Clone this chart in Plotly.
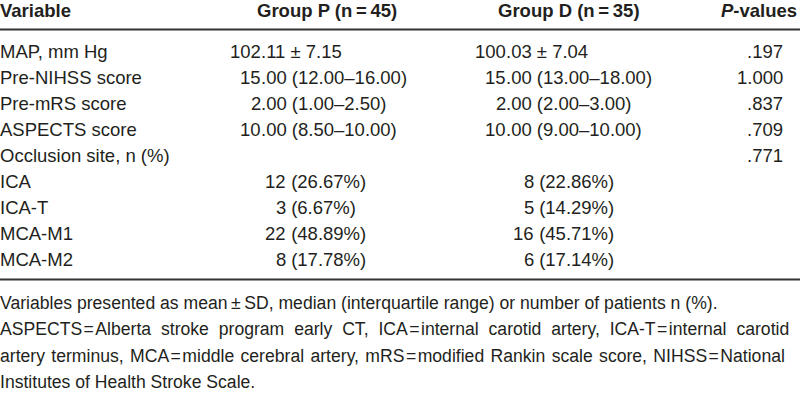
import plotly.graph_objects as go

# ---- data ----
variables = ["MAP, mm Hg", "Pre-NIHSS score", "Pre-mRS score", "ASPECTS score",
             "Occlusion site, n (%)", "ICA", "ICA-T", "MCA-M1", "MCA-M2"]
group_p = ["102.11 ± 7.15", "15.00 (12.00–16.00)", "2.00 (1.00–2.50)", "10.00 (8.50–10.00)",
           "", "12 (26.67%)", "3 (6.67%)", "22 (48.89%)", "8 (17.78%)"]
group_d = ["100.03 ± 7.04", "15.00 (13.00–18.00)", "2.00 (2.00–3.00)", "10.00 (9.00–10.00)",
           "", "8 (22.86%)", "5 (14.29%)", "16 (45.71%)", "6 (17.14%)"]
p_values = [".197", "1.000", ".837", ".709", ".771", "", "", "", ""]
headers = ["Variable", "Group P (n\u2009=\u200945)", "Group D (n\u2009=\u200935)", "<i>P</i>-values"]
footnotes = [
    "Variables presented as mean\u2009±\u2009SD, median (interquartile range) or number of patients n (%).",
    "ASPECTS\u200a=\u200aAlberta stroke program early CT, ICA\u200a=\u200ainternal carotid artery, ICA-T\u200a=\u200ainternal carotid",
    "artery terminus, MCA\u200a=\u200amiddle cerebral artery, mRS\u200a=\u200amodified Rankin scale score, NIHSS\u200a=\u200aNational",
    "Institutes of Health Stroke Scale.",
]
# extra word spacing to imitate the justified footnote lines of the reference
word_pad = ["", "\u2009\u200a", "\u200a", ""]

FONT = "Liberation Sans, Arial, sans-serif"
COLOR = "#231f20"
FS = 18.5
FS_FOOT = 17.6

W, H = 800, 403
header_y = 10
rule_top = 29.5
row0 = 51
row_step = 26
rule_bot = 279.5
foot0 = 303
foot_step = 26.3

# column anchors
var_x = 0
p_dec_x = 261     # decimal alignment for Group P
p_int_x = 286     # integer end for counts, Group P
d_dec_x = 506
d_int_x = 534
pv_x = 783

fig = go.Figure()
ann = []

def add(x, y, text, anchor="left", bold=False, size=FS):
    ann.append(dict(x=x, y=y, xref="x", yref="y", text=("<b>%s</b>" % text) if bold else text,
                    showarrow=False, xanchor=anchor, yanchor="middle",
                    borderpad=0, borderwidth=0,
                    font=dict(family=FONT, size=size, color=COLOR)))

# header
add(0, header_y, headers[0], "left", True)
add(397, header_y, headers[1], "right", True)
add(640, header_y, headers[2], "right", True)
add(797, header_y, headers[3], "right", True)

def add_value(val, y, dec_x, int_x):
    if not val:
        return
    first = val.split(" ")[0]
    if "." in first:
        i = val.index(".")
        add(dec_x, y, val[:i], "right")
        add(dec_x, y, val[i:], "left")
    else:
        i = val.index(" ")
        add(int_x, y, val[:i], "right")
        add(int_x, y, "&nbsp;" + val[i + 1:], "left")

for k, v in enumerate(variables):
    y = row0 + k * row_step
    add(var_x, y, v, "left")
    add_value(group_p[k], y, p_dec_x, p_int_x)
    add_value(group_d[k], y, d_dec_x, d_int_x)
    if p_values[k]:
        add(pv_x, y, p_values[k], "right")

for k, f in enumerate(footnotes):
    txt = f.replace(" ", " " + word_pad[k]) if word_pad[k] else f
    add(0, foot0 + k * foot_step, txt, "left", size=FS_FOOT)

shapes = [
    dict(type="line", xref="x", yref="y", x0=0, x1=800, y0=rule_top, y1=rule_top,
         line=dict(color="#333333", width=2.2)),
    dict(type="line", xref="x", yref="y", x0=0, x1=800, y0=rule_bot, y1=rule_bot,
         line=dict(color="#333333", width=2.2)),
]

fig.update_layout(
    width=W, height=H, margin=dict(l=0, r=0, t=0, b=0),
    paper_bgcolor="white", plot_bgcolor="white",
    xaxis=dict(range=[0, W], visible=False, fixedrange=True),
    yaxis=dict(range=[H, 0], visible=False, fixedrange=True),
    annotations=ann, shapes=shapes, showlegend=False,
)
fig.write_html("out.html", config={"displayModeBar": False, "staticPlot": True},
               post_script="document.body.style.margin='0';document.body.style.overflow='hidden';")
